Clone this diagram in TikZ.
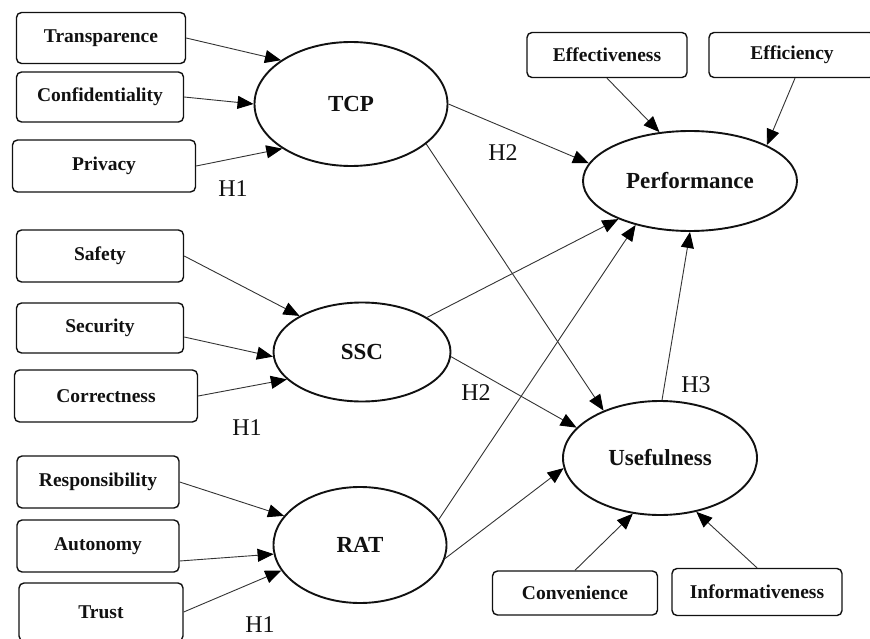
\documentclass[tikz,border=0pt]{standalone}
\usepackage{fontspec}
\setmainfont{Liberation Serif}
\usepackage{tikz}
\usetikzlibrary{arrows.meta,shapes.geometric}
\definecolor{ink}{HTML}{111111}
\definecolor{sub}{HTML}{333333}
\tikzset{
  ind/.style={draw=ink, line width=1.4pt, rounded corners=5pt, minimum width=167pt,
              minimum height=51pt, inner sep=0pt, font=\fontsize{19.5}{21}\selectfont\bfseries, text=ink},
  con/.style={ellipse, draw=ink, line width=1.9pt, inner sep=0pt,
              font=\fontsize{23}{25}\selectfont\bfseries, text=ink},
  hyp/.style={font=\fontsize{24}{26}\selectfont, text=ink},
  ch/.style={-{Triangle[length=16pt,width=13pt,color=black]}, line width=0.9pt, draw=sub},
}

\begin{document}
\begin{tikzpicture}[x=1pt,y=-1pt]
    \useasboundingbox (0,0) rectangle (870,639);
    % constructs
    \node[con, minimum width=193pt, minimum height=124pt] (tcp) at (351,104) {TCP};
    \node[con, minimum width=177pt, minimum height=99pt] (ssc) at (362,352) {SSC};
    \node[con, minimum width=173pt, minimum height=116pt] (rat) at (360,545) {RAT};
    \node[con, minimum width=214pt, minimum height=100pt] (prf) at (690,181) {Performance};
    \node[con, minimum width=194pt, minimum height=114pt] (use) at (660,458) {Usefulness};
    % indicators
    \node[ind, minimum width=169pt] (trn) at (101,38) {Transparence};
    \node[ind, minimum height=50pt] (cnf) at (100,97) {Confidentiality};
    \node[ind, minimum width=183pt, minimum height=52pt] (prv) at (104,166) {Privacy};
    \node[ind, minimum width=160pt, minimum height=45pt] (eft) at (607,55) {Effectiveness};
    \node[ind, minimum width=166pt, minimum height=45pt] (efc) at (792,55) {Efficiency};
    \node[ind, minimum height=52pt] (saf) at (100,256) {Safety};
    \node[ind, minimum height=50pt] (sec) at (100,328) {Security};
    \node[ind, minimum width=183pt, minimum height=52pt] (cor) at (106,396) {Correctness};
    \node[ind, minimum width=162pt, minimum height=52pt] (rsp) at (98,482) {Responsibility};
    \node[ind, minimum width=162pt, minimum height=52pt] (aut) at (98,546) {Autonomy};
    \node[ind, minimum width=164pt, minimum height=58pt] (tru) at (101,612) {Trust};
    \node[ind, minimum width=165pt, minimum height=44pt] (cnv) at (575,593) {Convenience};
    \node[ind, minimum width=170pt, minimum height=47pt] (inf) at (757,592) {Informativeness};
    % measurement paths
    \draw[ch] (trn.east) -- (tcp.148);
    \draw[ch] (cnf.east) -- (tcp.180);
    \draw[ch] (prv.east) -- (tcp.213);
    \draw[ch] (saf.east) -- (ssc.150);
    \draw[ch] ([yshift=-9pt]sec.east) -- (ssc.183);
    \draw[ch] (cor.east) -- (ssc.200);
    \draw[ch] (rsp.east) -- (rat.159);
    \draw[ch] ([yshift=-15pt]aut.east) -- (rat.186);
    \draw[ch] (tru.east) -- (rat.198);
    \draw[ch] (eft.south) -- (prf.122);
    \draw[ch] ([xshift=3pt]efc.south) -- (prf.25);
    \draw[ch] (cnv.north) -- (use.244);
    \draw[ch] (inf.north) -- (use.304);
    % structural paths
    \draw[ch] (tcp.east) -- (prf.170);
    \draw[ch] (tcp.332) -- (use.140);
    \draw[ch] (ssc.28) -- (prf.208);
    \draw[ch] (ssc.357) -- (use.160);
    \draw[ch] (rat.18) -- (prf.219);
    \draw[ch] (rat.351) -- (use.186);
    \draw[ch] (use.88) -- (prf.south);
    % hypotheses
    \node[hyp] (h1a) at (233,189) {H1};
    \node[hyp] (h1b) at (247,428) {H1};
    \node[hyp] (h1c) at (260,625) {H1};
    \node[hyp] (h2a) at (503,153) {H2};
    \node[hyp] (h2b) at (476,393) {H2};
    \node[hyp] (h3) at (696,385) {H3};
  \end{tikzpicture}
\end{document}
